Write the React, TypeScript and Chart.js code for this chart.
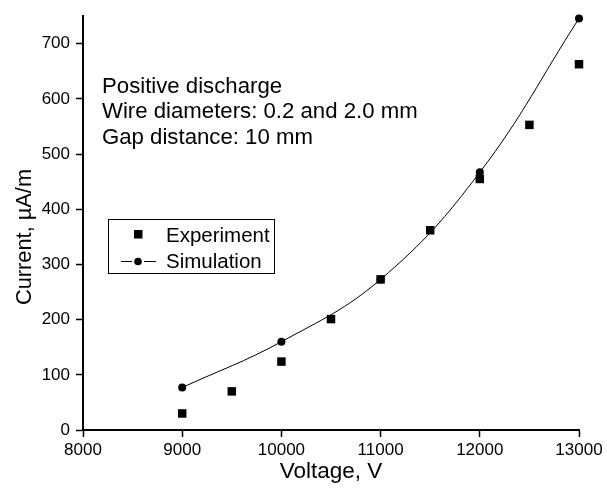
import React, { useEffect, useRef } from "react";
import { Chart, registerables } from "chart.js";

Chart.register(...registerables);

// ---- data ----
const voltageExp = [9000, 9500, 10000, 10500, 11000, 11500, 12000, 12500, 13000];
const currentExp = [30, 70, 124, 201, 273, 362, 455, 553, 663];
const voltageSim = [9000, 10000, 11000, 12000, 13000];
const currentSim = [77, 160, 273, 467, 746];
const xTickValues = [8000, 9000, 10000, 11000, 12000, 13000];
const yTickValues = [0, 100, 200, 300, 400, 500, 600, 700];
const annotationLines = [
  "Positive discharge",
  "Wire diameters: 0.2 and 2.0 mm",
  "Gap distance: 10 mm",
];
const legendLabels = ["Experiment", "Simulation"];
const xTitle = "Voltage, V";
const yTitle = "Current, \u00B5A/m";

const FONT = "'Liberation Sans', Arial, Helvetica, sans-serif";

const overlayPlugin = {
  id: "overlay",
  afterDraw(chart: any) {
    const ctx = chart.ctx as CanvasRenderingContext2D;
    ctx.save();
    ctx.fillStyle = "#000";
    ctx.strokeStyle = "#000";

    // annotation text
    ctx.font = `22.2px ${FONT}`;
    ctx.textAlign = "left";
    ctx.textBaseline = "alphabetic";
    annotationLines.forEach((t, i) => {
      ctx.fillText(t, 102, 93 + i * 25.3);
    });

    // y axis title
    ctx.save();
    ctx.translate(31, 237);
    ctx.rotate(-Math.PI / 2);
    ctx.font = `21.8px ${FONT}`;
    ctx.textAlign = "center";
    ctx.textBaseline = "alphabetic";
    ctx.fillText(yTitle, 0, 0);
    ctx.restore();

    // legend box
    ctx.lineWidth = 1;
    ctx.strokeRect(108.5, 219.5, 166, 54);
    // experiment marker
    ctx.fillRect(134, 230, 8.5, 8.5);
    // simulation marker
    ctx.lineWidth = 1;
    ctx.beginPath();
    ctx.moveTo(121, 261.5);
    ctx.lineTo(132, 261.5);
    ctx.moveTo(144, 261.5);
    ctx.lineTo(156, 261.5);
    ctx.stroke();
    ctx.beginPath();
    ctx.arc(138, 261.5, 3.8, 0, Math.PI * 2);
    ctx.fill();
    ctx.font = `20.5px ${FONT}`;
    ctx.textAlign = "left";
    ctx.fillText(legendLabels[0], 166, 242);
    ctx.fillText(legendLabels[1], 166, 268);
    ctx.restore();
  },
};

export default function App() {
  const ref = useRef<HTMLCanvasElement | null>(null);
  useEffect(() => {
    document.body.style.margin = "0";
    const canvas = ref.current;
    if (!canvas) return;
    const chart = new Chart(canvas, {
      type: "line",
      data: {
        datasets: [
          {
            label: legendLabels[1],
            data: voltageSim.map((v, i) => ({ x: v, y: currentSim[i] })),
            borderColor: "#000",
            backgroundColor: "#000",
            borderWidth: 1,
            pointStyle: "circle",
            pointRadius: 4,
            pointBorderWidth: 0,
            tension: 0.4,
            showLine: true,
            clip: false as any,
          },
          {
            label: legendLabels[0],
            data: voltageExp.map((v, i) => ({ x: v, y: currentExp[i] })),
            borderColor: "#000",
            backgroundColor: "#000",
            pointStyle: "rect",
            pointRadius: 6,
            pointBorderWidth: 0,
            showLine: false,
            clip: false as any,
          },
        ],
      },
      options: {
        responsive: false,
        animation: false,
        events: [],
        layout: { padding: { top: 7, right: 28, left: 0, bottom: 0 } },
        plugins: {
          legend: { display: false },
          tooltip: { enabled: false },
          title: { display: false },
        },
        scales: {
          x: {
            type: "linear",
            min: 8000,
            max: 13000,
            afterBuildTicks: (s: any) => {
              s.ticks = xTickValues.map((v) => ({ value: v }));
            },
            afterFit: (s: any) => {
              s.height = 58;
            },
            grid: {
              drawOnChartArea: false,
              drawTicks: true,
              tickLength: 7,
              tickColor: "#000",
              tickWidth: 1.5,
            },
            border: { display: true, color: "#000", width: 2 },
            ticks: {
              color: "#000",
              padding: 3,
              maxRotation: 0,
              font: { family: FONT, size: 17 },
              callback: (v: any) => String(v),
            },
            title: {
              display: true,
              text: xTitle,
              color: "#000",
              font: { family: FONT, size: 22.5 },
              padding: { top: 0, bottom: 3 },
            },
          },
          y: {
            type: "linear",
            min: 0,
            max: 750,
            afterBuildTicks: (s: any) => {
              s.ticks = yTickValues.map((v) => ({ value: v }));
            },
            afterFit: (s: any) => {
              s.width = 83;
            },
            grid: {
              drawOnChartArea: false,
              drawTicks: true,
              tickLength: 7,
              tickColor: "#000",
              tickWidth: 1.5,
            },
            border: { display: true, color: "#000", width: 2 },
            ticks: {
              color: "#000",
              padding: 6,
              font: { family: FONT, size: 17 },
              callback: (v: any) => String(v),
            },
            title: { display: false },
          },
        },
      },
      plugins: [overlayPlugin],
    });
    return () => chart.destroy();
  }, []);
  return (
    <div style={{ width: 607, height: 488 }}>
      <canvas ref={ref} width={607} height={488} style={{ display: "block" }} />
    </div>
  );
}
